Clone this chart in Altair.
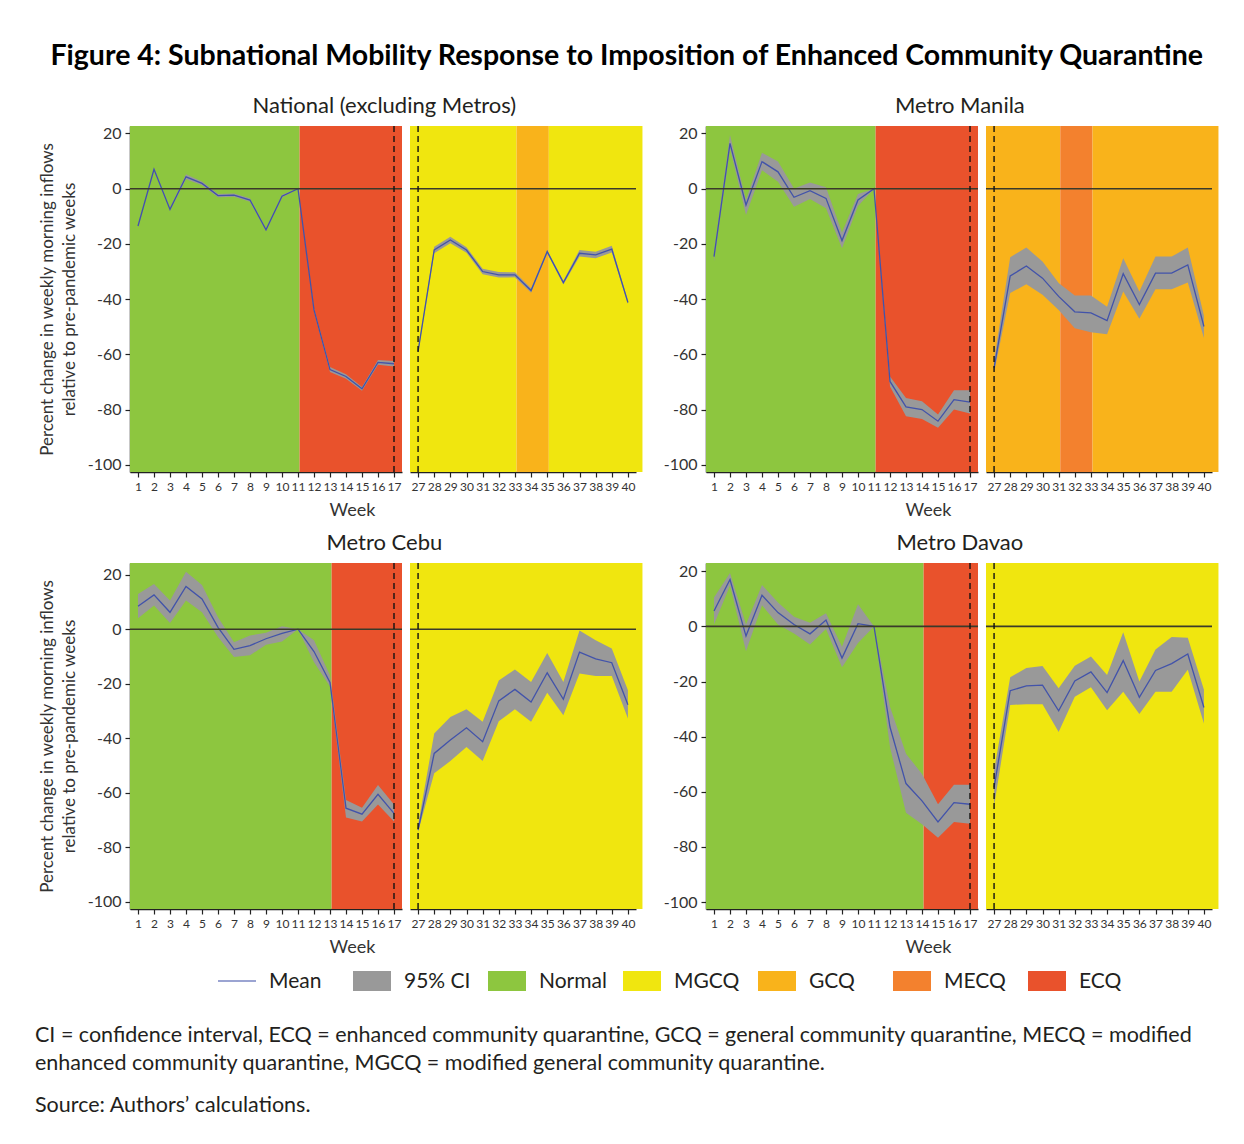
import altair as alt
import pandas as pd

FONT = "Lato"

REGIME_NAMES = ["Normal", "MGCQ", "GCQ", "MECQ", "ECQ"]
REGIME_COLORS = ["#8DC63F", "#F0E60F", "#F9B31B", "#F3812E", "#E9522C"]
CI_COLOR = "#999999"
MEAN_COLOR = "#4253AA"

WEEKS_L = list(range(1, 18))
WEEKS_R = list(range(27, 41))
Y_TICKS = [-100, -80, -60, -40, -20, 0, 20]

# ---------------- National (excluding Metros) ----------------
nat_l_mean = [-13.5, 7.0, -7.5, 4.3, 1.9, -2.5, -2.3, -4.1, -14.9, -2.7, 0.0, -43.9, -65.5, -68.0, -72.5, -62.9, -63.4]
nat_l_lo = [-14.1, 6.5, -8.0, 3.4, 1.2, -3.1, -2.9, -4.7, -15.4, -3.2, 0.0, -44.5, -66.4, -68.8, -73.2, -63.8, -64.4]
nat_l_hi = [-12.9, 7.5, -7.0, 5.2, 2.6, -1.9, -1.7, -3.5, -14.4, -2.2, 0.0, -43.3, -64.6, -67.2, -71.8, -62.0, -62.4]
nat_r_mean = [-58.9, -22.2, -18.6, -22.2, -30.0, -31.2, -31.2, -36.9, -22.8, -34.0, -23.4, -24.0, -21.9, -41.2]
nat_r_lo = [-59.4, -23.4, -19.8, -23.2, -31.0, -32.2, -32.1, -37.7, -23.4, -34.7, -24.6, -25.2, -23.1, -41.8]
nat_r_hi = [-58.4, -21.0, -17.4, -21.2, -29.0, -30.2, -30.3, -36.1, -22.2, -33.3, -22.2, -22.8, -20.7, -40.6]
nat_l_regimes = [("Normal", 0.5, 11.1), ("ECQ", 11.1, 17.5)]
nat_r_regimes = [("MGCQ", 26.5, 33.1), ("GCQ", 33.1, 35.1), ("MGCQ", 35.1, 40.9)]

# ---------------- Metro Manila ----------------
mnl_l_mean = [-24.6, 16.4, -5.9, 9.8, 6.1, -3.1, -0.7, -3.5, -18.8, -4.1, 0.0, -69.8, -79.0, -80.0, -84.2, -76.4, -77.3]
mnl_l_lo = [-26.4, 14.6, -9.5, 6.7, 2.5, -6.5, -3.7, -7.1, -21.6, -6.3, 0.0, -71.6, -82.4, -83.4, -86.6, -80.0, -81.4]
mnl_l_hi = [-22.8, 19.4, -4.1, 13.0, 9.8, 0.1, 2.2, 0.5, -15.9, -1.9, 0.0, -68.0, -75.8, -77.0, -81.8, -73.0, -73.0]
mnl_r_mean = [-64.9, -31.6, -28.0, -32.4, -39.0, -44.6, -45.0, -47.8, -30.8, -42.0, -30.6, -30.6, -27.6, -49.9]
mnl_r_lo = [-66.7, -37.8, -34.6, -38.4, -43.9, -50.5, -52.0, -52.7, -37.2, -47.1, -36.4, -36.4, -34.0, -54.1]
mnl_r_hi = [-62.0, -24.8, -21.3, -26.4, -34.2, -38.7, -38.7, -42.8, -25.2, -37.2, -24.6, -24.6, -21.3, -46.0]
mnl_l_regimes = [("Normal", 0.5, 11.1), ("ECQ", 11.1, 17.5)]
mnl_r_regimes = [("GCQ", 26.5, 31.1), ("MECQ", 31.1, 33.1), ("GCQ", 33.1, 40.9)]

# ---------------- Metro Cebu ----------------
ceb_l_mean = [8.4, 12.6, 6.2, 15.7, 11.1, 0.7, -7.4, -6.0, -3.5, -1.5, 0.0, -8.2, -19.5, -65.7, -67.9, -60.6, -67.6]
ceb_l_lo = [4.0, 8.7, 2.3, 10.5, 6.2, -2.9, -10.2, -9.6, -5.7, -4.5, 0.0, -12.1, -21.0, -69.1, -70.6, -64.3, -70.6]
ceb_l_hi = [12.9, 16.6, 10.5, 21.1, 16.2, 4.4, -4.8, -2.3, -1.3, 1.1, 0.0, -4.1, -17.0, -62.7, -65.5, -57.2, -64.3]
ceb_r_mean = [-73.7, -45.6, -40.7, -36.2, -41.3, -26.3, -22.1, -26.7, -16.0, -25.7, -8.4, -10.9, -12.3, -27.7]
ceb_r_lo = [-74.3, -52.9, -48.4, -43.2, -48.4, -33.8, -29.4, -34.0, -23.3, -31.6, -16.3, -17.2, -17.2, -32.8]
ceb_r_hi = [-71.8, -38.3, -32.2, -29.4, -34.0, -18.8, -14.8, -19.4, -8.7, -19.4, -0.5, -4.1, -7.1, -22.4]
ceb_l_regimes = [("Normal", 0.5, 13.1), ("ECQ", 13.1, 17.5)]
ceb_r_regimes = [("MGCQ", 26.5, 40.9)]

# ---------------- Metro Davao ----------------
dav_l_mean = [5.6, 17.0, -3.5, 11.3, 5.0, 0.7, -2.7, 2.3, -11.5, 1.0, 0.0, -36.5, -57.0, -63.3, -70.9, -63.9, -64.5]
dav_l_lo = [0.7, 14.8, -9.0, 7.7, 0.7, -2.6, -6.6, -0.9, -14.8, -6.0, 0.0, -43.8, -67.6, -71.8, -76.7, -70.9, -71.6]
dav_l_hi = [10.5, 19.4, 0.7, 15.0, 8.7, 3.5, 1.3, 4.8, -7.4, 8.0, 0.0, -29.1, -46.2, -53.5, -64.5, -57.4, -57.4]
dav_r_mean = [-58.4, -23.3, -21.6, -21.3, -30.6, -19.8, -16.5, -24.0, -12.4, -25.7, -16.0, -13.5, -10.0, -29.4]
dav_r_lo = [-65.1, -28.5, -28.2, -28.2, -38.3, -25.5, -22.1, -30.4, -23.7, -31.8, -23.7, -23.7, -15.7, -35.2]
dav_r_hi = [-52.3, -18.4, -15.1, -14.4, -22.4, -14.3, -10.9, -17.6, -2.1, -20.0, -8.4, -3.8, -4.1, -23.0]
dav_l_regimes = [("Normal", 0.5, 14.1), ("ECQ", 14.1, 17.5)]
dav_r_regimes = [("MGCQ", 26.5, 40.9)]

PANEL_TITLES = ["National (excluding Metros)", "Metro Manila", "Metro Cebu", "Metro Davao"]
PANEL_TITLE_DX = [44, 19, 44, 19]
Y_TITLE = ["Percent change in weekly morning inflows", "relative to pre-pandemic weeks"]
Y_DOMAINS = [[-102.6, 22.7], [-102.6, 22.7], [-102.7, 24.3], [-102.5, 23.0]]

LEG_ITEMS = ["Mean", "95% CI", "Normal", "MGCQ", "GCQ", "MECQ", "ECQ"]
LEG_COLORS = [MEAN_COLOR, CI_COLOR] + REGIME_COLORS
LEG_KIND = ["line", "box", "box", "box", "box", "box", "box"]

TITLE = "Figure 4: Subnational Mobility Response to Imposition of Enhanced Community Quarantine"
NOTE_LINES = [
    "CI = confidence interval, ECQ = enhanced community quarantine, GCQ = general community quarantine, MECQ = modified",
    "enhanced community quarantine, MGCQ = modified general community quarantine.",
]
SOURCE = "Source: Authors\u2019 calculations."

W_LEFT, W_RIGHT, H = 272, 226, 346
TEXT_COLOR = "#231F20"

regime_scale = alt.Scale(domain=REGIME_NAMES, range=REGIME_COLORS)


def make_sub(weeks, mean, lo, hi, regs, xdom, ydom, dash_week, side, ytitle):
    df = pd.DataFrame({"week": weeks, "mean": mean, "lo": lo, "hi": hi})
    bg = pd.DataFrame({
        "regime": [r[0] for r in regs],
        "start": [r[1] for r in regs],
        "end": [r[2] for r in regs],
        "ylo": ydom[0],
        "yhi": ydom[1],
    })
    xscale = alt.Scale(domain=xdom, nice=False, zero=False)
    yscale = alt.Scale(domain=ydom, nice=False, zero=False)
    if side == "left":
        xaxis = alt.Axis(values=weeks, title="Week", titleX=222, titleY=43, titleAlign="center",
                         titleBaseline="alphabetic", titleFontSize=18, labelFontSize=12,
                         labelOverlap=False, labelFlush=False, labelPadding=4)
        if ytitle:
            yaxis = alt.Axis(values=Y_TICKS, title=Y_TITLE, titleFontSize=17, titleLineHeight=22,
                             titlePadding=9, labelFontSize=16, labelPadding=4,
                             labelExpr="'' + datum.value")
        else:
            yaxis = alt.Axis(values=Y_TICKS, title=None, labelFontSize=16, labelPadding=4,
                             labelExpr="'' + datum.value")
        width = W_LEFT
    else:
        xaxis = alt.Axis(values=weeks, title=None, labelFontSize=12, labelOverlap=False,
                         labelFlush=False, labelPadding=4)
        yaxis = None
        width = W_RIGHT

    def X(field):
        return alt.X(field, type="quantitative", scale=xscale, axis=xaxis)

    def Y(field):
        return alt.Y(field, type="quantitative", scale=yscale, axis=yaxis)

    rect = alt.Chart(bg).mark_rect().encode(
        x=X("start"), x2="end", y=Y("ylo"), y2="yhi",
        color=alt.Color("regime:N", scale=regime_scale, legend=None),
    )
    area = alt.Chart(df).mark_area(color=CI_COLOR, opacity=1).encode(x=X("week"), y=Y("lo"), y2="hi")
    line = alt.Chart(df).mark_line(color=MEAN_COLOR, strokeWidth=1.3).encode(x=X("week"), y=Y("mean"))
    zero = alt.Chart(pd.DataFrame({"z": [0]})).mark_rule(color="#3a3a2a", strokeWidth=1.6).encode(y=Y("z"))
    dash = alt.Chart(pd.DataFrame({"w": [dash_week]})).mark_rule(
        color="#111111", strokeWidth=1.4, strokeDash=[6, 4]).encode(x=X("w"))
    return alt.layer(rect, area, line, zero, dash).properties(width=width, height=H)


def make_panel(i, lm, llo, lhi, lreg, rm, rlo, rhi, rreg, ytitle):
    left = make_sub(WEEKS_L, lm, llo, lhi, lreg, [0.5, 17.5], Y_DOMAINS[i], 17, "left", ytitle)
    right = make_sub(WEEKS_R, rm, rlo, rhi, rreg, [26.5, 40.5], Y_DOMAINS[i], 27, "right", ytitle)
    ttl = alt.TitleParams(PANEL_TITLES[i], anchor="middle", dx=PANEL_TITLE_DX[i], fontSize=22,
                          fontWeight="normal", offset=7, color=TEXT_COLOR, font=FONT)
    return alt.hconcat(left, right, spacing=6, title=ttl)


p_nat = make_panel(0, nat_l_mean, nat_l_lo, nat_l_hi, nat_l_regimes, nat_r_mean, nat_r_lo, nat_r_hi, nat_r_regimes, True)
p_mnl = make_panel(1, mnl_l_mean, mnl_l_lo, mnl_l_hi, mnl_l_regimes, mnl_r_mean, mnl_r_lo, mnl_r_hi, mnl_r_regimes, False)
p_ceb = make_panel(2, ceb_l_mean, ceb_l_lo, ceb_l_hi, ceb_l_regimes, ceb_r_mean, ceb_r_lo, ceb_r_hi, ceb_r_regimes, True)
p_dav = make_panel(3, dav_l_mean, dav_l_lo, dav_l_hi, dav_l_regimes, dav_r_mean, dav_r_lo, dav_r_hi, dav_r_regimes, False)

row1 = alt.hconcat(p_nat, p_mnl, spacing=20)
row2 = alt.hconcat(p_ceb, p_dav, spacing=20)

# ---------------- legend + notes ----------------
leg_df = pd.DataFrame({"item": LEG_ITEMS, "color": LEG_COLORS, "kind": LEG_KIND})
leg_x = alt.X("item:N", sort=LEG_ITEMS, axis=None,
              scale=alt.Scale(type="point", range=[107, 917], padding=0))
leg_box = alt.Chart(leg_df).transform_filter("datum.kind == 'box'").mark_rect(width=38).encode(
    x=leg_x, y=alt.value(2), y2=alt.value(22), color=alt.Color("color:N", scale=None))
leg_line = alt.Chart(leg_df).transform_filter("datum.kind == 'line'").mark_tick(
    orient="horizontal", size=38, thickness=1.6).encode(
    x=leg_x, y=alt.value(12), color=alt.Color("color:N", scale=None))
leg_text = alt.Chart(leg_df).mark_text(align="left", baseline="middle", dx=32, fontSize=21,
                                       font=FONT, color=TEXT_COLOR).encode(
    x=leg_x, y=alt.value(13), text="item:N")
legend = alt.layer(leg_box, leg_line, leg_text).properties(
    width=1000, height=28,
    title=alt.TitleParams(NOTE_LINES, subtitle=SOURCE, orient="bottom", anchor="start", frame="group",
                          dx=-95, offset=28, fontSize=21.5, fontWeight="normal", lineHeight=28,
                          color=TEXT_COLOR, font=FONT, subtitleFont=FONT, subtitleFontSize=21.5,
                          subtitleColor=TEXT_COLOR, subtitlePadding=20, subtitleLineHeight=28),
)

chart = alt.vconcat(row1, row2, legend, spacing=13).properties(
    title=alt.TitleParams(TITLE, fontSize=28.5, fontWeight="bold", font=FONT, color="#000000",
                          anchor="middle", offset=25),
    padding={"left": 27, "top": 33, "right": 10, "bottom": 5},
).configure(font=FONT, background="white").configure_view(stroke=None).configure_axis(
    domainColor="#222222", domainWidth=1.5, tickColor="#222222", tickWidth=1.2, tickSize=5,
    labelColor="#333333", titleColor="#333333", labelFont=FONT, titleFont=FONT,
    titleFontWeight="normal", grid=False,
)

chart.save("out.html", embed_options={"renderer": "svg", "actions": False})
